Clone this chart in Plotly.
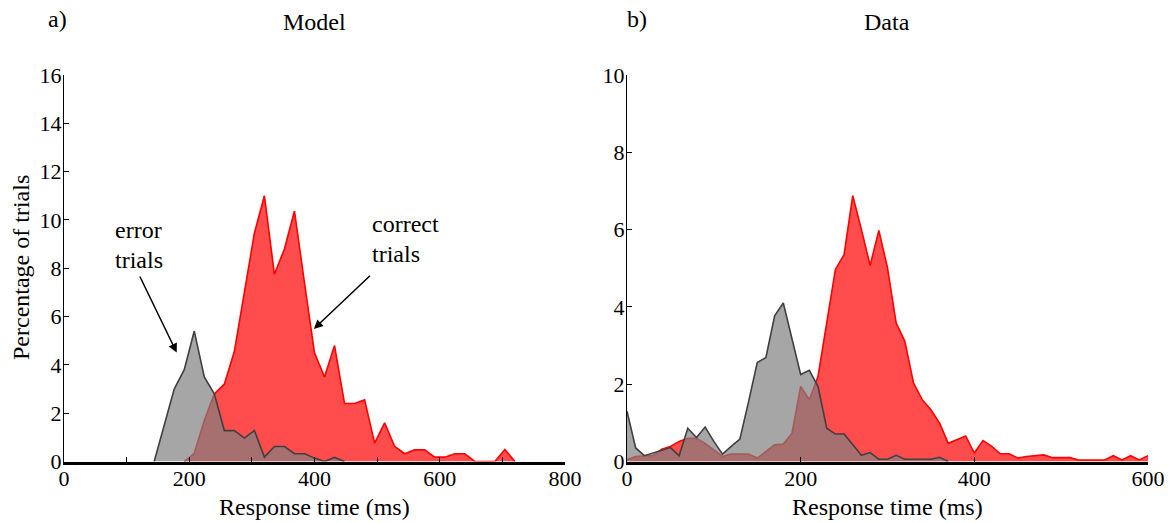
import plotly.graph_objects as go

# ---------------- data ----------------
# Panel a) Model  (response time in ms, percentage of trials)
model_correct_t = [192, 208, 224, 240, 256, 272, 288, 304, 320, 336, 352, 368, 384, 400,
                   416, 432, 448, 464, 480, 496, 512, 528, 544, 560, 576, 592, 608, 624,
                   640, 656, 672, 688, 704, 720]
model_correct = [0, 0.34, 1.7, 2.8, 3.2, 4.55, 7.0, 9.45, 11.0, 7.75, 8.8, 10.37, 7.4, 4.5,
                 3.5, 4.8, 2.4, 2.4, 2.55, 0.76, 1.6, 0.62, 0.32, 0.48, 0.48, 0.18, 0.18, 0.32,
                 0.32, 0, 0, 0, 0.5, 0]

model_error_t = [144, 160, 176, 192, 208, 224, 240, 256, 272, 288, 304, 320, 336, 352,
                 368, 384, 400, 416, 432, 448]
model_error = [0, 1.5, 3.0, 3.8, 5.4, 3.5, 2.8, 1.28, 1.28, 0.97, 1.28, 0.18, 0.62, 0.62,
               0.32, 0.32, 0.14, 0, 0.17, 0]

# Panel b) Data
data_correct_t = [0, 10, 20, 30, 40, 50, 60, 70, 80, 90, 100, 110, 120, 130, 140, 150, 160,
                  170, 180, 190, 200, 210, 220, 230, 240, 250, 260, 270, 280, 290, 300, 310,
                  320, 330, 340, 350, 360, 370, 380, 390, 400, 410, 420, 430, 440, 450, 460,
                  470, 480, 490, 500, 510, 520, 530, 540, 550, 560, 570, 580, 590, 600]
data_correct = [0.05, 0.13, 0.15, 0.15, 0.32, 0.39, 0.52, 0.6, 0.6, 0.47, 0.3, 0.13, 0.19,
                0.19, 0.19, 0.09, 0.26, 0.43, 0.45, 0.73, 1.94, 1.6, 2.2, 3.6, 4.97, 5.35,
                6.88, 6.0, 5.07, 5.98, 5.01, 3.58, 3.11, 2.03, 1.6, 1.34, 0.99, 0.47, 0.56,
                0.66, 0.22, 0.54, 0.39, 0.2, 0.2, 0.09, 0.13, 0.15, 0.17, 0.1, 0.1, 0.1,
                0.04, 0.04, 0.04, 0.04, 0.15, 0.04, 0.15, 0.04, 0.15]

data_error_t = [0, 10, 20, 30, 40, 50, 60, 70, 80, 90, 100, 110, 120, 130, 140, 150, 160,
                170, 180, 190, 200, 210, 220, 230, 240, 250, 260, 270, 280, 290, 300, 310,
                320, 330, 340, 350, 360, 370]
data_error = [1.3, 0.35, 0.15, 0.22, 0.28, 0.36, 0.15, 0.86, 0.62, 0.89, 0.52, 0.19, 0.39,
              0.58, 1.55, 2.56, 2.69, 3.77, 4.1, 3.15, 2.25, 2.36, 1.94, 0.86, 0.71, 0.71,
              0.43, 0.16, 0.23, 0.06, 0.06, 0.16, 0.06, 0.06, 0.06, 0.06, 0.11, 0]

model_xticks = [0, 200, 400, 600, 800]
model_yticks = [0, 2, 4, 6, 8, 10, 12, 14, 16]
data_xticks = [0, 200, 400, 600]
data_yticks = [0, 2, 4, 6, 8, 10]

# ---------------- figure ----------------
W, H = 1174, 523
FONT = "Liberation Serif"
RED_FILL = "rgba(255,0,0,0.7)"
GRAY_FILL = "rgba(128,128,128,0.7)"
GRAY_LINE = "rgb(64,64,64)"

fig = go.Figure()
fig.add_trace(go.Scatter(x=model_correct_t, y=model_correct, mode="lines", fill="tozeroy",
                         fillcolor=RED_FILL, line=dict(color="red", width=1.6),
                         xaxis="x", yaxis="y", showlegend=False, hoverinfo="skip"))
fig.add_trace(go.Scatter(x=model_error_t, y=model_error, mode="lines", fill="tozeroy",
                         fillcolor=GRAY_FILL, line=dict(color=GRAY_LINE, width=1.6),
                         xaxis="x", yaxis="y", showlegend=False, hoverinfo="skip"))
fig.add_trace(go.Scatter(x=data_correct_t, y=data_correct, mode="lines", fill="tozeroy",
                         fillcolor=RED_FILL, line=dict(color="red", width=1.6),
                         xaxis="x2", yaxis="y2", showlegend=False, hoverinfo="skip"))
fig.add_trace(go.Scatter(x=data_error_t, y=data_error, mode="lines", fill="tozeroy",
                         fillcolor=GRAY_FILL, line=dict(color=GRAY_LINE, width=1.6),
                         xaxis="x2", yaxis="y2", showlegend=False, hoverinfo="skip"))

y_dom = [(H - 461.5) / H, (H - 75) / H]
tickfont = dict(family=FONT, size=22, color="black")

common_x = dict(ticks="inside", ticklen=5, tickwidth=1, tickcolor="black", showline=True,
                linecolor="black", linewidth=2.5, showgrid=False, zeroline=False,
                tickfont=tickfont, fixedrange=True, automargin=False,
                ticklabelstandoff=-5)
common_y = dict(ticks="inside", ticklen=5, tickwidth=1, tickcolor="black", showline=True,
                linecolor="black", linewidth=1.2, showgrid=False, zeroline=False,
                tickfont=tickfont, fixedrange=True, automargin=False,
                ticklabelstandoff=-3)

fig.update_layout(
    width=W, height=H,
    margin=dict(l=0, r=0, t=0, b=0),
    paper_bgcolor="white", plot_bgcolor="white",
    xaxis=dict(domain=[64 / W, 565 / W], range=[0, 800], tickvals=model_xticks,
               minor=dict(dtick=100, ticks="inside", ticklen=5, tickcolor="black"),
               anchor="y", **common_x),
    yaxis=dict(domain=y_dom, range=[0, 16], tickvals=model_yticks, anchor="x", **common_y),
    xaxis2=dict(domain=[627 / W, 1148 / W], range=[0, 600], tickvals=data_xticks,
                anchor="y2", **common_x),
    yaxis2=dict(domain=y_dom, range=[0, 10], tickvals=data_yticks, anchor="x2", **common_y),
)

txt = dict(family=FONT, size=24, color="black")
def pa(text, px, py, xanchor="center", angle=0):
    fig.add_annotation(text=text, x=px / W, y=1 - py / H, xref="paper", yref="paper",
                       xanchor=xanchor, yanchor="middle", showarrow=False, font=txt,
                       textangle=angle)

pa("a)", 57, 19)
pa("Model", 314, 22)
pa("b)", 637, 19)
pa("Data", 887, 22)
pa("Response time (ms)", 314, 507)
pa("Response time (ms)", 887, 507)
pa("Percentage of trials", 21, 268, angle=-90)
pa("error", 113, 230, xanchor="left")
pa("trials", 113, 260, xanchor="left")
pa("correct", 370, 224, xanchor="left")
pa("trials", 370, 254, xanchor="left")

# arrows (data coordinates of panel a)
fig.add_annotation(x=180, y=4.51, ax=120, ay=7.72, xref="x", yref="y", axref="x", ayref="y",
                   showarrow=True, arrowhead=2, arrowsize=1.2, arrowwidth=1.5,
                   arrowcolor="black", text="")
fig.add_annotation(x=399, y=5.49, ax=491, ay=7.75, xref="x", yref="y", axref="x", ayref="y",
                   showarrow=True, arrowhead=2, arrowsize=1.2, arrowwidth=1.5,
                   arrowcolor="black", text="")

fig.write_html("out.html")
